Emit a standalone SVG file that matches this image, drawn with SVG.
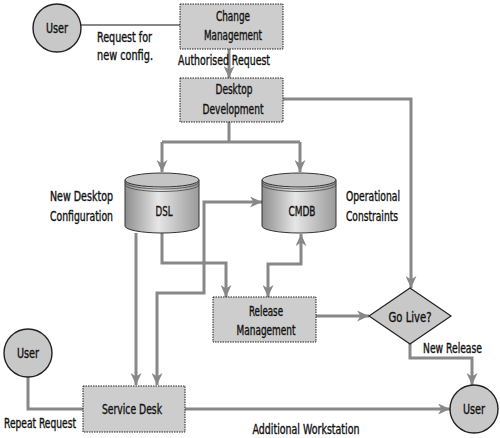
<svg xmlns="http://www.w3.org/2000/svg" width="500" height="438" viewBox="0 0 500 438">
<defs>
<style>
text{font-family:"DejaVu Sans Condensed","Liberation Sans",sans-serif;font-size:13.5px;fill:#111;stroke:#111;stroke-width:0.35;}
.c{text-anchor:middle;}
.e{text-anchor:end;}
.box{fill:#cdcdcd;stroke:#222;stroke-width:1;stroke-dasharray:1.5 1;}
.circ{fill:#c8c8c8;stroke:#222;stroke-width:1.4;}
.ln{fill:none;stroke:#888;stroke-width:3;}
.thin{fill:none;stroke:#888;stroke-width:2;}
.arr{marker-end:url(#ah);}
.arr2{marker-start:url(#ah);marker-end:url(#ah);}
.cylb{fill:url(#cg);stroke:#333;stroke-width:1;}
.cylt{fill:#c4c4c4;stroke:#333;stroke-width:1;}
.rim{fill:none;stroke:#444;stroke-width:0.8;}
</style>
<linearGradient id="cg" x1="0" y1="0" x2="1" y2="0">
<stop offset="0" stop-color="#8e8e8e"/>
<stop offset="0.45" stop-color="#e6e6e6"/>
<stop offset="1" stop-color="#9a9a9a"/>
</linearGradient>
<marker id="ah" markerUnits="userSpaceOnUse" markerWidth="13" markerHeight="11" refX="12" refY="5.5" orient="auto-start-reverse" viewBox="0 0 13 11">
<path d="M0,0 L12,5.5 L0,11 L3.5,5.5 z" fill="#888"/>
</marker>
</defs>

<g id="connectors">
<path class="thin" d="M80,25 H180"/>
<path class="ln arr" d="M229,49 V78"/>
<path class="ln" d="M229,122 V142 M162,142 H300"/>
<path class="ln arr" d="M162,142 V172"/>
<path class="ln arr" d="M300,142 V172"/>
<path class="ln arr" d="M283,99 H411 V288"/>
<path class="ln arr" d="M136,233 V385"/>
<path class="ln arr" d="M162,233 V263 H226 V297"/>
<path class="ln arr2" d="M262,202 H204 V293 H157 V385"/>
<path class="ln arr2" d="M301,234 V264 H268 V297"/>
<path class="ln arr" d="M316,316 H369"/>
<path class="ln arr" d="M410,344 V358 H472 V385"/>
<path class="ln" d="M28,377 V409 H83"/>
<path class="ln arr" d="M185,409 H450"/>
</g>

<g id="user1">
<circle class="circ" cx="57" cy="28" r="24"/>
<text class="c" x="57" y="33" textLength="22" lengthAdjust="spacingAndGlyphs">User</text>
</g>
<text x="97" y="42" textLength="55" lengthAdjust="spacingAndGlyphs">Request for</text>
<text x="97" y="60" textLength="56" lengthAdjust="spacingAndGlyphs">new config.</text>

<g id="change-management">
<rect class="box" x="180" y="4" width="103" height="45"/>
<text class="c" x="233" y="21" textLength="34" lengthAdjust="spacingAndGlyphs">Change</text>
<text class="c" x="233" y="40" textLength="58" lengthAdjust="spacingAndGlyphs">Management</text>
</g>
<text class="c" x="224" y="65" textLength="92" lengthAdjust="spacingAndGlyphs">Authorised Request</text>

<g id="desktop-development">
<rect class="box" x="180" y="78" width="103" height="44"/>
<text class="c" x="234" y="94" textLength="37" lengthAdjust="spacingAndGlyphs">Desktop</text>
<text class="c" x="233" y="114" textLength="61" lengthAdjust="spacingAndGlyphs">Development</text>
</g>

<g id="dsl">
<path class="cylb" d="M125,180 V226 A37,7 0 0 0 199,226 V180 z"/>
<ellipse class="cylt" cx="162" cy="180" rx="37" ry="7"/>
<path class="rim" d="M125,182 A37,7 0 0 0 199,182 M125,184.5 A37,7 0 0 0 199,184.5"/>
<text class="c" x="164" y="216" textLength="17" lengthAdjust="spacingAndGlyphs">DSL</text>
</g>
<text class="e" x="113" y="201" textLength="63" lengthAdjust="spacingAndGlyphs">New Desktop</text>
<text class="e" x="113" y="221" textLength="63" lengthAdjust="spacingAndGlyphs">Configuration</text>

<g id="cmdb">
<path class="cylb" d="M262,180 V226 A37,7 0 0 0 336,226 V180 z"/>
<ellipse class="cylt" cx="299" cy="180" rx="37" ry="7"/>
<path class="rim" d="M262,182 A37,7 0 0 0 336,182 M262,184.5 A37,7 0 0 0 336,184.5"/>
<text class="c" x="302" y="216" textLength="27" lengthAdjust="spacingAndGlyphs">CMDB</text>
</g>
<text x="346" y="201" textLength="54" lengthAdjust="spacingAndGlyphs">Operational</text>
<text x="346" y="221" textLength="52" lengthAdjust="spacingAndGlyphs">Constraints</text>

<g id="release-management">
<rect class="box" x="213" y="297" width="103" height="45"/>
<text class="c" x="266" y="316" textLength="34" lengthAdjust="spacingAndGlyphs">Release</text>
<text class="c" x="266" y="335" textLength="59" lengthAdjust="spacingAndGlyphs">Management</text>
</g>

<g id="go-live">
<polygon points="410,288 451,316 410,344 369,316" fill="#c8c8c8" stroke="#222" stroke-width="1.2"/>
<text class="c" x="410" y="322" textLength="43" lengthAdjust="spacingAndGlyphs">Go Live?</text>
</g>
<text x="423" y="353" textLength="59" lengthAdjust="spacingAndGlyphs">New Release</text>

<g id="user2">
<circle class="circ" cx="28" cy="353" r="24"/>
<text class="c" x="28" y="358" textLength="22" lengthAdjust="spacingAndGlyphs">User</text>
</g>
<text x="4" y="428" textLength="72" lengthAdjust="spacingAndGlyphs">Repeat Request</text>

<g id="service-desk">
<rect class="box" x="83" y="386" width="102" height="46"/>
<text class="c" x="132" y="414" textLength="60" lengthAdjust="spacingAndGlyphs">Service Desk</text>
</g>
<text class="c" x="306" y="434" textLength="107" lengthAdjust="spacingAndGlyphs">Additional Workstation</text>

<g id="user3">
<circle class="circ" cx="474" cy="409" r="24"/>
<text class="c" x="474" y="414" textLength="22" lengthAdjust="spacingAndGlyphs">User</text>
</g>
</svg>
